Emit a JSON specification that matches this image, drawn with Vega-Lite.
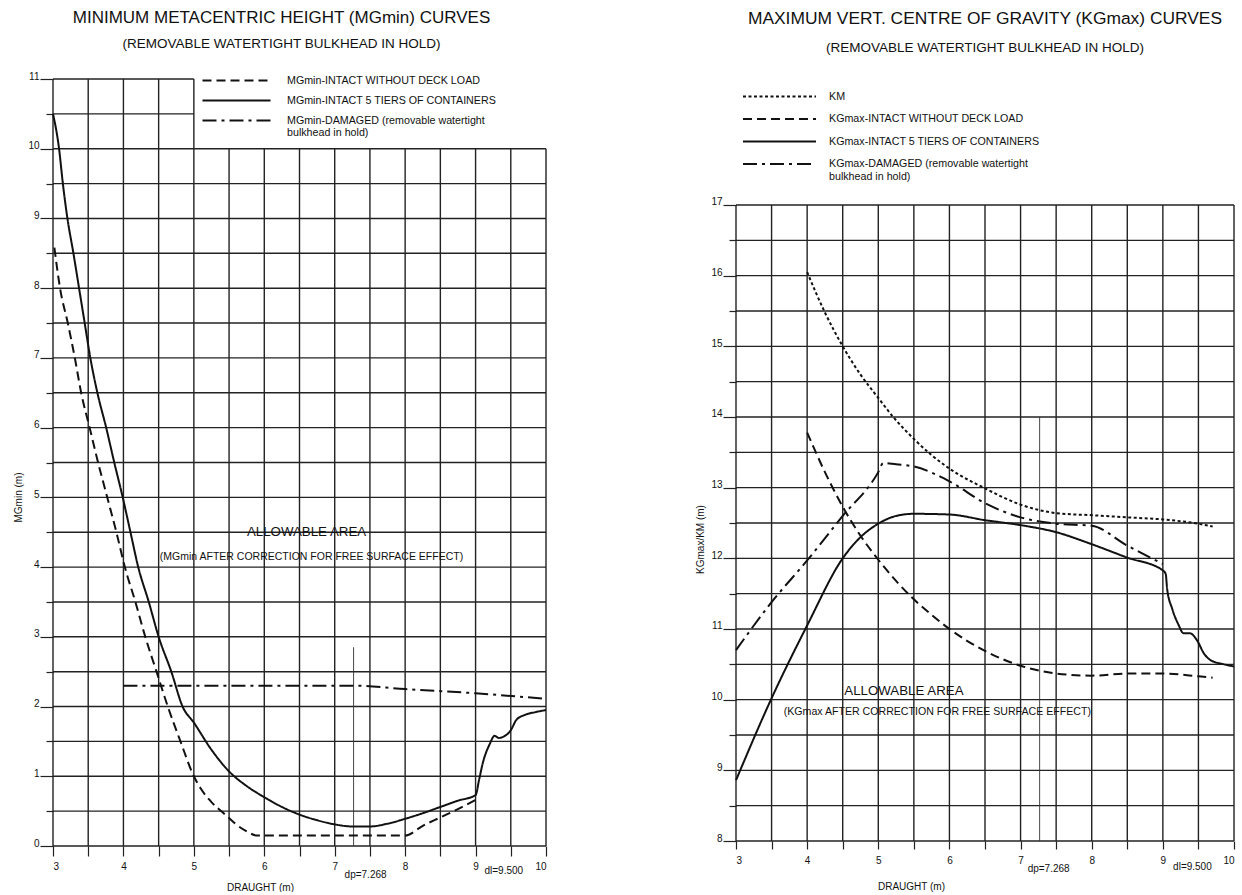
{
  "$schema": "https://vega.github.io/schema/vega-lite/v6.json",
  "padding": {"left": 13, "top": 8, "right": 0, "bottom": 0},
  "background": "white",
  "config": {
    "font": "Liberation Sans",
    "view": {"stroke": null},
    "axis": {"domain": false, "grid": false, "labelFont": "Liberation Sans", "labelFontSize": 10, "labelColor": "#111", "tickColor": "#222", "tickWidth": 1.2, "titleFont": "Liberation Sans", "titleFontSize": 10, "titleFontWeight": "normal", "titleColor": "#111"},
    "legend": {"labelFont": "Liberation Sans", "labelColor": "#111", "padding": 0},
    "title": {"font": "Liberation Sans", "fontWeight": "normal", "color": "#111", "subtitleFont": "Liberation Sans", "subtitleColor": "#111", "anchor": "middle"}
  },
  "resolve": {"scale": {"strokeDash": "independent", "x": "independent", "y": "independent"}, "legend": {"strokeDash": "independent"}},
  "spacing": 145,
  "datasets": {
    "lv": [
      {"x": 3, "y": 0, "y2": 11}, {"x": 3.5, "y": 0, "y2": 11}, {"x": 4, "y": 0, "y2": 11}, {"x": 4.5, "y": 0, "y2": 11}, {"x": 5, "y": 0, "y2": 11},
      {"x": 5.5, "y": 0, "y2": 10}, {"x": 6, "y": 0, "y2": 10}, {"x": 6.5, "y": 0, "y2": 10}, {"x": 7, "y": 0, "y2": 10}, {"x": 7.5, "y": 0, "y2": 10},
      {"x": 8, "y": 0, "y2": 10}, {"x": 8.5, "y": 0, "y2": 10}, {"x": 9, "y": 0, "y2": 10}, {"x": 9.5, "y": 0, "y2": 10}, {"x": 10, "y": 0, "y2": 10}
    ],
    "lh": [
      {"y": 0, "x": 3, "x2": 10}, {"y": 0.5, "x": 3, "x2": 10}, {"y": 1, "x": 3, "x2": 10}, {"y": 1.5, "x": 3, "x2": 10}, {"y": 2, "x": 3, "x2": 10},
      {"y": 2.5, "x": 3, "x2": 10}, {"y": 3, "x": 3, "x2": 10}, {"y": 3.5, "x": 3, "x2": 10}, {"y": 4, "x": 3, "x2": 10}, {"y": 4.5, "x": 3, "x2": 10},
      {"y": 5, "x": 3, "x2": 10}, {"y": 5.5, "x": 3, "x2": 10}, {"y": 6, "x": 3, "x2": 10}, {"y": 6.5, "x": 3, "x2": 10}, {"y": 7, "x": 3, "x2": 10},
      {"y": 7.5, "x": 3, "x2": 10}, {"y": 8, "x": 3, "x2": 10}, {"y": 8.5, "x": 3, "x2": 10}, {"y": 9, "x": 3, "x2": 10}, {"y": 9.5, "x": 3, "x2": 10},
      {"y": 10, "x": 3, "x2": 10}, {"y": 10.5, "x": 3, "x2": 5}, {"y": 11, "x": 3, "x2": 5}
    ],
    "rv": [
      {"x": 3, "y": 8, "y2": 17}, {"x": 3.5, "y": 8, "y2": 17}, {"x": 4, "y": 8, "y2": 17}, {"x": 4.5, "y": 8, "y2": 17}, {"x": 5, "y": 8, "y2": 17},
      {"x": 5.5, "y": 8, "y2": 17}, {"x": 6, "y": 8, "y2": 17}, {"x": 6.5, "y": 8, "y2": 17}, {"x": 7, "y": 8, "y2": 17}, {"x": 7.5, "y": 8, "y2": 17},
      {"x": 8, "y": 8, "y2": 17}, {"x": 8.5, "y": 8, "y2": 17}, {"x": 9, "y": 8, "y2": 17}, {"x": 9.5, "y": 8, "y2": 17}, {"x": 10, "y": 8, "y2": 17}
    ],
    "rh": [
      {"y": 8, "x": 3, "x2": 10}, {"y": 8.5, "x": 3, "x2": 10}, {"y": 9, "x": 3, "x2": 10}, {"y": 9.5, "x": 3, "x2": 10}, {"y": 10, "x": 3, "x2": 10},
      {"y": 10.5, "x": 3, "x2": 10}, {"y": 11, "x": 3, "x2": 10}, {"y": 11.5, "x": 3, "x2": 10}, {"y": 12, "x": 3, "x2": 10}, {"y": 12.5, "x": 3, "x2": 10},
      {"y": 13, "x": 3, "x2": 10}, {"y": 13.5, "x": 3, "x2": 10}, {"y": 14, "x": 3, "x2": 10}, {"y": 14.5, "x": 3, "x2": 10}, {"y": 15, "x": 3, "x2": 10},
      {"y": 15.5, "x": 3, "x2": 10}, {"y": 16, "x": 3, "x2": 10}, {"y": 16.5, "x": 3, "x2": 10}, {"y": 17, "x": 3, "x2": 10}
    ],
    "ll": [
      {"series": "MGmin-INTACT WITHOUT DECK LOAD", "x": 3.02, "y": 8.58},
      {"series": "MGmin-INTACT WITHOUT DECK LOAD", "x": 3.1, "y": 8.0},
      {"series": "MGmin-INTACT WITHOUT DECK LOAD", "x": 3.21, "y": 7.5},
      {"series": "MGmin-INTACT WITHOUT DECK LOAD", "x": 3.31, "y": 7.0},
      {"series": "MGmin-INTACT WITHOUT DECK LOAD", "x": 3.40, "y": 6.5},
      {"series": "MGmin-INTACT WITHOUT DECK LOAD", "x": 3.52, "y": 6.0},
      {"series": "MGmin-INTACT WITHOUT DECK LOAD", "x": 3.64, "y": 5.5},
      {"series": "MGmin-INTACT WITHOUT DECK LOAD", "x": 3.77, "y": 5.0},
      {"series": "MGmin-INTACT WITHOUT DECK LOAD", "x": 3.90, "y": 4.5},
      {"series": "MGmin-INTACT WITHOUT DECK LOAD", "x": 4.02, "y": 4.0},
      {"series": "MGmin-INTACT WITHOUT DECK LOAD", "x": 4.17, "y": 3.5},
      {"series": "MGmin-INTACT WITHOUT DECK LOAD", "x": 4.31, "y": 3.0},
      {"series": "MGmin-INTACT WITHOUT DECK LOAD", "x": 4.47, "y": 2.5},
      {"series": "MGmin-INTACT WITHOUT DECK LOAD", "x": 4.63, "y": 2.0},
      {"series": "MGmin-INTACT WITHOUT DECK LOAD", "x": 4.81, "y": 1.5},
      {"series": "MGmin-INTACT WITHOUT DECK LOAD", "x": 5.0, "y": 1.0},
      {"series": "MGmin-INTACT WITHOUT DECK LOAD", "x": 5.1, "y": 0.82},
      {"series": "MGmin-INTACT WITHOUT DECK LOAD", "x": 5.25, "y": 0.63},
      {"series": "MGmin-INTACT WITHOUT DECK LOAD", "x": 5.4, "y": 0.49},
      {"series": "MGmin-INTACT WITHOUT DECK LOAD", "x": 5.5, "y": 0.40},
      {"series": "MGmin-INTACT WITHOUT DECK LOAD", "x": 5.6, "y": 0.31},
      {"series": "MGmin-INTACT WITHOUT DECK LOAD", "x": 5.75, "y": 0.21},
      {"series": "MGmin-INTACT WITHOUT DECK LOAD", "x": 5.9, "y": 0.15},
      {"series": "MGmin-INTACT WITHOUT DECK LOAD", "x": 6.5, "y": 0.15},
      {"series": "MGmin-INTACT WITHOUT DECK LOAD", "x": 7.0, "y": 0.15},
      {"series": "MGmin-INTACT WITHOUT DECK LOAD", "x": 7.5, "y": 0.15},
      {"series": "MGmin-INTACT WITHOUT DECK LOAD", "x": 8.0, "y": 0.15},
      {"series": "MGmin-INTACT WITHOUT DECK LOAD", "x": 8.25, "y": 0.29},
      {"series": "MGmin-INTACT WITHOUT DECK LOAD", "x": 8.5, "y": 0.41},
      {"series": "MGmin-INTACT WITHOUT DECK LOAD", "x": 8.75, "y": 0.53},
      {"series": "MGmin-INTACT WITHOUT DECK LOAD", "x": 9.0, "y": 0.66},
      {"series": "MGmin-INTACT 5 TIERS OF CONTAINERS", "x": 3.0, "y": 10.5},
      {"series": "MGmin-INTACT 5 TIERS OF CONTAINERS", "x": 3.086, "y": 10.0},
      {"series": "MGmin-INTACT 5 TIERS OF CONTAINERS", "x": 3.14, "y": 9.5},
      {"series": "MGmin-INTACT 5 TIERS OF CONTAINERS", "x": 3.205, "y": 9.0},
      {"series": "MGmin-INTACT 5 TIERS OF CONTAINERS", "x": 3.29, "y": 8.5},
      {"series": "MGmin-INTACT 5 TIERS OF CONTAINERS", "x": 3.37, "y": 8.0},
      {"series": "MGmin-INTACT 5 TIERS OF CONTAINERS", "x": 3.45, "y": 7.5},
      {"series": "MGmin-INTACT 5 TIERS OF CONTAINERS", "x": 3.53, "y": 7.0},
      {"series": "MGmin-INTACT 5 TIERS OF CONTAINERS", "x": 3.63, "y": 6.5},
      {"series": "MGmin-INTACT 5 TIERS OF CONTAINERS", "x": 3.755, "y": 6.0},
      {"series": "MGmin-INTACT 5 TIERS OF CONTAINERS", "x": 3.87, "y": 5.5},
      {"series": "MGmin-INTACT 5 TIERS OF CONTAINERS", "x": 3.99, "y": 5.0},
      {"series": "MGmin-INTACT 5 TIERS OF CONTAINERS", "x": 4.10, "y": 4.5},
      {"series": "MGmin-INTACT 5 TIERS OF CONTAINERS", "x": 4.21, "y": 4.0},
      {"series": "MGmin-INTACT 5 TIERS OF CONTAINERS", "x": 4.36, "y": 3.5},
      {"series": "MGmin-INTACT 5 TIERS OF CONTAINERS", "x": 4.5, "y": 3.0},
      {"series": "MGmin-INTACT 5 TIERS OF CONTAINERS", "x": 4.68, "y": 2.5},
      {"series": "MGmin-INTACT 5 TIERS OF CONTAINERS", "x": 4.84, "y": 2.0},
      {"series": "MGmin-INTACT 5 TIERS OF CONTAINERS", "x": 5.0, "y": 1.77},
      {"series": "MGmin-INTACT 5 TIERS OF CONTAINERS", "x": 5.25, "y": 1.38},
      {"series": "MGmin-INTACT 5 TIERS OF CONTAINERS", "x": 5.5, "y": 1.07},
      {"series": "MGmin-INTACT 5 TIERS OF CONTAINERS", "x": 5.75, "y": 0.86},
      {"series": "MGmin-INTACT 5 TIERS OF CONTAINERS", "x": 6.0, "y": 0.70},
      {"series": "MGmin-INTACT 5 TIERS OF CONTAINERS", "x": 6.25, "y": 0.56},
      {"series": "MGmin-INTACT 5 TIERS OF CONTAINERS", "x": 6.5, "y": 0.45},
      {"series": "MGmin-INTACT 5 TIERS OF CONTAINERS", "x": 6.75, "y": 0.37},
      {"series": "MGmin-INTACT 5 TIERS OF CONTAINERS", "x": 7.0, "y": 0.31},
      {"series": "MGmin-INTACT 5 TIERS OF CONTAINERS", "x": 7.25, "y": 0.28},
      {"series": "MGmin-INTACT 5 TIERS OF CONTAINERS", "x": 7.5, "y": 0.28},
      {"series": "MGmin-INTACT 5 TIERS OF CONTAINERS", "x": 7.75, "y": 0.32},
      {"series": "MGmin-INTACT 5 TIERS OF CONTAINERS", "x": 8.0, "y": 0.39},
      {"series": "MGmin-INTACT 5 TIERS OF CONTAINERS", "x": 8.25, "y": 0.47},
      {"series": "MGmin-INTACT 5 TIERS OF CONTAINERS", "x": 8.5, "y": 0.56},
      {"series": "MGmin-INTACT 5 TIERS OF CONTAINERS", "x": 8.75, "y": 0.65},
      {"series": "MGmin-INTACT 5 TIERS OF CONTAINERS", "x": 9.0, "y": 0.73},
      {"series": "MGmin-INTACT 5 TIERS OF CONTAINERS", "x": 9.05, "y": 0.95},
      {"series": "MGmin-INTACT 5 TIERS OF CONTAINERS", "x": 9.1, "y": 1.18},
      {"series": "MGmin-INTACT 5 TIERS OF CONTAINERS", "x": 9.2, "y": 1.46},
      {"series": "MGmin-INTACT 5 TIERS OF CONTAINERS", "x": 9.27, "y": 1.58},
      {"series": "MGmin-INTACT 5 TIERS OF CONTAINERS", "x": 9.33, "y": 1.55},
      {"series": "MGmin-INTACT 5 TIERS OF CONTAINERS", "x": 9.4, "y": 1.57},
      {"series": "MGmin-INTACT 5 TIERS OF CONTAINERS", "x": 9.5, "y": 1.66},
      {"series": "MGmin-INTACT 5 TIERS OF CONTAINERS", "x": 9.58, "y": 1.81},
      {"series": "MGmin-INTACT 5 TIERS OF CONTAINERS", "x": 9.7, "y": 1.88},
      {"series": "MGmin-INTACT 5 TIERS OF CONTAINERS", "x": 9.85, "y": 1.92},
      {"series": "MGmin-INTACT 5 TIERS OF CONTAINERS", "x": 10.0, "y": 1.95},
      {"series": "MGmin-DAMAGED (removable watertight|bulkhead in hold)", "x": 4.0, "y": 2.3},
      {"series": "MGmin-DAMAGED (removable watertight|bulkhead in hold)", "x": 5.0, "y": 2.3},
      {"series": "MGmin-DAMAGED (removable watertight|bulkhead in hold)", "x": 6.0, "y": 2.3},
      {"series": "MGmin-DAMAGED (removable watertight|bulkhead in hold)", "x": 7.27, "y": 2.3},
      {"series": "MGmin-DAMAGED (removable watertight|bulkhead in hold)", "x": 8.0, "y": 2.25},
      {"series": "MGmin-DAMAGED (removable watertight|bulkhead in hold)", "x": 9.0, "y": 2.19},
      {"series": "MGmin-DAMAGED (removable watertight|bulkhead in hold)", "x": 10.0, "y": 2.11}
    ],
    "rl": [
      {"series": "KM", "x": 4.0, "y": 16.05},
      {"series": "KM", "x": 4.24, "y": 15.5},
      {"series": "KM", "x": 4.5, "y": 15.0},
      {"series": "KM", "x": 4.75, "y": 14.6},
      {"series": "KM", "x": 5.0, "y": 14.27},
      {"series": "KM", "x": 5.21, "y": 14.0},
      {"series": "KM", "x": 5.5, "y": 13.69},
      {"series": "KM", "x": 5.75, "y": 13.46},
      {"series": "KM", "x": 6.0, "y": 13.27},
      {"series": "KM", "x": 6.5, "y": 12.99},
      {"series": "KM", "x": 7.0, "y": 12.76},
      {"series": "KM", "x": 7.5, "y": 12.64},
      {"series": "KM", "x": 8.0, "y": 12.61},
      {"series": "KM", "x": 8.5, "y": 12.58},
      {"series": "KM", "x": 9.0, "y": 12.55},
      {"series": "KM", "x": 9.5, "y": 12.49},
      {"series": "KM", "x": 9.7, "y": 12.45},
      {"series": "KGmax-INTACT WITHOUT DECK LOAD", "x": 4.0, "y": 13.78},
      {"series": "KGmax-INTACT WITHOUT DECK LOAD", "x": 4.25, "y": 13.22},
      {"series": "KGmax-INTACT WITHOUT DECK LOAD", "x": 4.5, "y": 12.73},
      {"series": "KGmax-INTACT WITHOUT DECK LOAD", "x": 4.75, "y": 12.32},
      {"series": "KGmax-INTACT WITHOUT DECK LOAD", "x": 5.0, "y": 11.98},
      {"series": "KGmax-INTACT WITHOUT DECK LOAD", "x": 5.25, "y": 11.68},
      {"series": "KGmax-INTACT WITHOUT DECK LOAD", "x": 5.5, "y": 11.42},
      {"series": "KGmax-INTACT WITHOUT DECK LOAD", "x": 5.75, "y": 11.2},
      {"series": "KGmax-INTACT WITHOUT DECK LOAD", "x": 6.0, "y": 11.0},
      {"series": "KGmax-INTACT WITHOUT DECK LOAD", "x": 6.5, "y": 10.69},
      {"series": "KGmax-INTACT WITHOUT DECK LOAD", "x": 7.0, "y": 10.48},
      {"series": "KGmax-INTACT WITHOUT DECK LOAD", "x": 7.5, "y": 10.37},
      {"series": "KGmax-INTACT WITHOUT DECK LOAD", "x": 8.0, "y": 10.34},
      {"series": "KGmax-INTACT WITHOUT DECK LOAD", "x": 8.5, "y": 10.37},
      {"series": "KGmax-INTACT WITHOUT DECK LOAD", "x": 9.0, "y": 10.37},
      {"series": "KGmax-INTACT WITHOUT DECK LOAD", "x": 9.5, "y": 10.33},
      {"series": "KGmax-INTACT WITHOUT DECK LOAD", "x": 9.7, "y": 10.31},
      {"series": "KGmax-INTACT 5 TIERS OF CONTAINERS", "x": 3.0, "y": 8.86},
      {"series": "KGmax-INTACT 5 TIERS OF CONTAINERS", "x": 3.5, "y": 10.02},
      {"series": "KGmax-INTACT 5 TIERS OF CONTAINERS", "x": 4.0, "y": 11.05},
      {"series": "KGmax-INTACT 5 TIERS OF CONTAINERS", "x": 4.5, "y": 12.0},
      {"series": "KGmax-INTACT 5 TIERS OF CONTAINERS", "x": 4.75, "y": 12.3},
      {"series": "KGmax-INTACT 5 TIERS OF CONTAINERS", "x": 5.0, "y": 12.49},
      {"series": "KGmax-INTACT 5 TIERS OF CONTAINERS", "x": 5.25, "y": 12.6},
      {"series": "KGmax-INTACT 5 TIERS OF CONTAINERS", "x": 5.5, "y": 12.63},
      {"series": "KGmax-INTACT 5 TIERS OF CONTAINERS", "x": 6.0, "y": 12.62},
      {"series": "KGmax-INTACT 5 TIERS OF CONTAINERS", "x": 6.5, "y": 12.54},
      {"series": "KGmax-INTACT 5 TIERS OF CONTAINERS", "x": 7.0, "y": 12.47},
      {"series": "KGmax-INTACT 5 TIERS OF CONTAINERS", "x": 7.5, "y": 12.37},
      {"series": "KGmax-INTACT 5 TIERS OF CONTAINERS", "x": 8.0, "y": 12.2},
      {"series": "KGmax-INTACT 5 TIERS OF CONTAINERS", "x": 8.5, "y": 12.01},
      {"series": "KGmax-INTACT 5 TIERS OF CONTAINERS", "x": 9.0, "y": 11.83},
      {"series": "KGmax-INTACT 5 TIERS OF CONTAINERS", "x": 9.04, "y": 11.78},
      {"series": "KGmax-INTACT 5 TIERS OF CONTAINERS", "x": 9.06, "y": 11.57},
      {"series": "KGmax-INTACT 5 TIERS OF CONTAINERS", "x": 9.13, "y": 11.29},
      {"series": "KGmax-INTACT 5 TIERS OF CONTAINERS", "x": 9.22, "y": 11.06},
      {"series": "KGmax-INTACT 5 TIERS OF CONTAINERS", "x": 9.29, "y": 10.94},
      {"series": "KGmax-INTACT 5 TIERS OF CONTAINERS", "x": 9.38, "y": 10.94},
      {"series": "KGmax-INTACT 5 TIERS OF CONTAINERS", "x": 9.48, "y": 10.84},
      {"series": "KGmax-INTACT 5 TIERS OF CONTAINERS", "x": 9.58, "y": 10.65},
      {"series": "KGmax-INTACT 5 TIERS OF CONTAINERS", "x": 9.67, "y": 10.56},
      {"series": "KGmax-INTACT 5 TIERS OF CONTAINERS", "x": 9.86, "y": 10.5},
      {"series": "KGmax-INTACT 5 TIERS OF CONTAINERS", "x": 10.0, "y": 10.47},
      {"series": "KGmax-DAMAGED (removable watertight|bulkhead in hold)", "x": 3.0, "y": 10.70},
      {"series": "KGmax-DAMAGED (removable watertight|bulkhead in hold)", "x": 3.5, "y": 11.38},
      {"series": "KGmax-DAMAGED (removable watertight|bulkhead in hold)", "x": 4.0, "y": 11.97},
      {"series": "KGmax-DAMAGED (removable watertight|bulkhead in hold)", "x": 4.5, "y": 12.60},
      {"series": "KGmax-DAMAGED (removable watertight|bulkhead in hold)", "x": 5.0, "y": 13.22},
      {"series": "KGmax-DAMAGED (removable watertight|bulkhead in hold)", "x": 5.07, "y": 13.35},
      {"series": "KGmax-DAMAGED (removable watertight|bulkhead in hold)", "x": 5.25, "y": 13.33},
      {"series": "KGmax-DAMAGED (removable watertight|bulkhead in hold)", "x": 5.5, "y": 13.30},
      {"series": "KGmax-DAMAGED (removable watertight|bulkhead in hold)", "x": 6.0, "y": 13.09},
      {"series": "KGmax-DAMAGED (removable watertight|bulkhead in hold)", "x": 6.5, "y": 12.78},
      {"series": "KGmax-DAMAGED (removable watertight|bulkhead in hold)", "x": 7.0, "y": 12.58},
      {"series": "KGmax-DAMAGED (removable watertight|bulkhead in hold)", "x": 7.5, "y": 12.49},
      {"series": "KGmax-DAMAGED (removable watertight|bulkhead in hold)", "x": 8.0, "y": 12.46},
      {"series": "KGmax-DAMAGED (removable watertight|bulkhead in hold)", "x": 8.5, "y": 12.18},
      {"series": "KGmax-DAMAGED (removable watertight|bulkhead in hold)", "x": 9.0, "y": 11.92}
    ]
  },
  "hconcat": [
    {
      "width": 493,
      "height": 767,
      "title": {"text": "MINIMUM METACENTRIC HEIGHT (MGmin) CURVES", "subtitle": "(REMOVABLE WATERTIGHT BULKHEAD IN HOLD)", "fontSize": 17, "subtitleFontSize": 13.5, "subtitlePadding": 10, "offset": 17, "frame": "bounds"},
      "encoding": {
        "x": {"field": "x", "type": "quantitative", "scale": {"domain": [3, 10], "nice": false, "zero": false},
          "axis": {"title": "DRAUGHT (m)", "values": [3, 3.5, 4, 4.5, 5, 5.5, 6, 6.5, 7, 7.5, 8, 8.5, 9, 9.5, 10], "tickSize": 10, "labelPadding": 5, "labelExpr": "datum.value % 1 === 0 ? format(datum.value, 'd') : ''", "titleX": 207, "titlePadding": 11}},
        "y": {"field": "y", "type": "quantitative", "scale": {"domain": [0, 11], "nice": false, "zero": false},
          "axis": {"title": "MGmin (m)", "values": [0, 0.5, 1, 1.5, 2, 2.5, 3, 3.5, 4, 4.5, 5, 5.5, 6, 6.5, 7, 7.5, 8, 8.5, 9, 9.5, 10, 10.5, 11], "tickSize": {"condition": {"test": "datum.value % 1 === 0", "value": 13}, "value": 7}, "labelPadding": 1, "labelOffset": -3, "labelExpr": "datum.value % 1 === 0 ? format(datum.value, 'd') : ''", "titleX": -30, "titleY": 418}}
      },
      "layer": [
        {
          "data": {"name": "lv"},
          "mark": {"type": "rule", "color": "#222", "strokeWidth": 1.4},
          "encoding": {"y2": {"field": "y2"}}
        },
        {
          "data": {"name": "lh"},
          "mark": {"type": "rule", "color": "#222", "strokeWidth": 1.4},
          "encoding": {"x2": {"field": "x2"}}
        },
        {
          "data": {"values": [{"x": 7.268, "y": 0, "y2": 2.85}]},
          "mark": {"type": "rule", "color": "#333", "strokeWidth": 0.9},
          "encoding": {"y2": {"field": "y2"}}
        },
        {
          "data": {"name": "ll"},
          "mark": {"type": "line", "interpolate": "monotone", "color": "#111", "strokeWidth": 2},
          "encoding": {
            "strokeDash": {"field": "series", "type": "nominal",
              "scale": {"domain": ["MGmin-INTACT WITHOUT DECK LOAD", "MGmin-INTACT 5 TIERS OF CONTAINERS", "MGmin-DAMAGED (removable watertight|bulkhead in hold)"], "range": [[9, 5], [1, 0], [14, 5, 3, 5]]},
              "legend": {"orient": "none", "legendX": 171, "legendY": -11, "title": null, "symbolType": "M-3,0H3", "symbolSize": 514, "symbolStrokeWidth": 1.8, "symbolStrokeColor": "#111", "labelFontSize": 10.7, "labelOffset": 38, "rowPadding": 2, "labelLimit": 400, "labelExpr": "split(datum.label, '|')"}}
          }
        },
        {
          "data": {"values": [{"x": 6.6, "y": 4.5, "text": "ALLOWABLE AREA"}]},
          "mark": {"type": "text", "fontSize": 13.3, "color": "#111", "baseline": "middle"},
          "encoding": {"text": {"field": "text"}}
        },
        {
          "data": {"values": [{"x": 6.67, "y": 4.15, "text": "(MGmin AFTER CORRECTION FOR FREE SURFACE EFFECT)"}]},
          "mark": {"type": "text", "fontSize": 10.5, "color": "#111", "baseline": "middle"},
          "encoding": {"text": {"field": "text"}}
        },
        {
          "data": {"values": [{"x": 7.268, "y": 0, "text": "dp=7.268"}]},
          "mark": {"type": "text", "fontSize": 10, "color": "#111", "baseline": "middle", "dx": 12, "dy": 29},
          "encoding": {"text": {"field": "text"}}
        },
        {
          "data": {"values": [{"x": 9.5, "y": 0, "text": "dl=9.500"}]},
          "mark": {"type": "text", "fontSize": 10, "color": "#111", "baseline": "middle", "dx": -7, "dy": 25},
          "encoding": {"text": {"field": "text"}}
        }
      ]
    },
    {
      "width": 498,
      "height": 762,
      "title": {"text": "MAXIMUM VERT. CENTRE OF GRAVITY (KGmax) CURVES", "subtitle": "(REMOVABLE WATERTIGHT BULKHEAD IN HOLD)", "fontSize": 17.4, "subtitleFontSize": 13.5, "subtitlePadding": 13, "offset": 25, "frame": "group"},
      "encoding": {
        "x": {"field": "x", "type": "quantitative", "scale": {"domain": [3, 10], "nice": false, "zero": false},
          "axis": {"title": "DRAUGHT (m)", "values": [3, 3.5, 4, 4.5, 5, 5.5, 6, 6.5, 7, 7.5, 8, 8.5, 9, 9.5, 10], "tickSize": 8, "labelPadding": 6, "labelExpr": "datum.value % 1 === 0 ? format(datum.value, 'd') : ''", "titleX": 175, "titlePadding": 16}},
        "y": {"field": "y", "type": "quantitative", "scale": {"domain": [8, 18.783], "nice": false, "zero": false},
          "axis": {"title": "KGmax/KM (m)", "values": [8, 8.5, 9, 9.5, 10, 10.5, 11, 11.5, 12, 12.5, 13, 13.5, 14, 14.5, 15, 15.5, 16, 16.5, 17], "tickSize": {"condition": {"test": "datum.value % 1 === 0", "value": 13}, "value": 7}, "labelPadding": 1, "labelOffset": -3, "labelExpr": "datum.value % 1 === 0 ? format(datum.value, 'd') : ''", "titleX": -31, "titleY": 460}}
      },
      "layer": [
        {
          "data": {"name": "rv"},
          "mark": {"type": "rule", "color": "#222", "strokeWidth": 1.4},
          "encoding": {"y2": {"field": "y2"}}
        },
        {
          "data": {"name": "rh"},
          "mark": {"type": "rule", "color": "#222", "strokeWidth": 1.4},
          "encoding": {"x2": {"field": "x2"}}
        },
        {
          "data": {"name": "rl"},
          "mark": {"type": "line", "interpolate": "monotone", "color": "#111", "strokeWidth": 2},
          "encoding": {
            "strokeDash": {"field": "series", "type": "nominal",
              "scale": {"domain": ["KM", "KGmax-INTACT WITHOUT DECK LOAD", "KGmax-INTACT 5 TIERS OF CONTAINERS", "KGmax-DAMAGED (removable watertight|bulkhead in hold)"], "range": [[3, 2.5], [9, 5], [1, 0], [14, 5, 3, 5]]},
              "legend": {"orient": "none", "legendX": 30, "legendY": 4, "title": null, "symbolType": "M-3,0H3", "symbolSize": 592, "symbolStrokeWidth": 1.8, "symbolStrokeColor": "#111", "labelFontSize": 10.7, "labelOffset": 36, "rowPadding": 3.5, "labelLimit": 400, "labelExpr": "split(datum.label, '|')"}}
          }
        },
        {
          "data": {"values": [{"x": 7.268, "y": 8, "y2": 14}]},
          "mark": {"type": "rule", "color": "#333", "strokeWidth": 0.9},
          "encoding": {"y2": {"field": "y2"}}
        },
        {
          "data": {"values": [{"x": 5.36, "y": 10.12, "text": "ALLOWABLE AREA"}]},
          "mark": {"type": "text", "fontSize": 13.3, "color": "#111", "baseline": "middle"},
          "encoding": {"text": {"field": "text"}}
        },
        {
          "data": {"values": [{"x": 5.83, "y": 9.82, "text": "(KGmax AFTER CORRECTION FOR FREE SURFACE EFFECT)"}]},
          "mark": {"type": "text", "fontSize": 10.6, "color": "#111", "baseline": "middle"},
          "encoding": {"text": {"field": "text"}}
        },
        {
          "data": {"values": [{"x": 7.268, "y": 8, "text": "dp=7.268"}]},
          "mark": {"type": "text", "fontSize": 10, "color": "#111", "baseline": "middle", "dx": 9, "dy": 28},
          "encoding": {"text": {"field": "text"}}
        },
        {
          "data": {"values": [{"x": 9.5, "y": 8, "text": "dl=9.500"}]},
          "mark": {"type": "text", "fontSize": 10, "color": "#111", "baseline": "middle", "dx": -6, "dy": 26},
          "encoding": {"text": {"field": "text"}}
        }
      ]
    }
  ]
}
